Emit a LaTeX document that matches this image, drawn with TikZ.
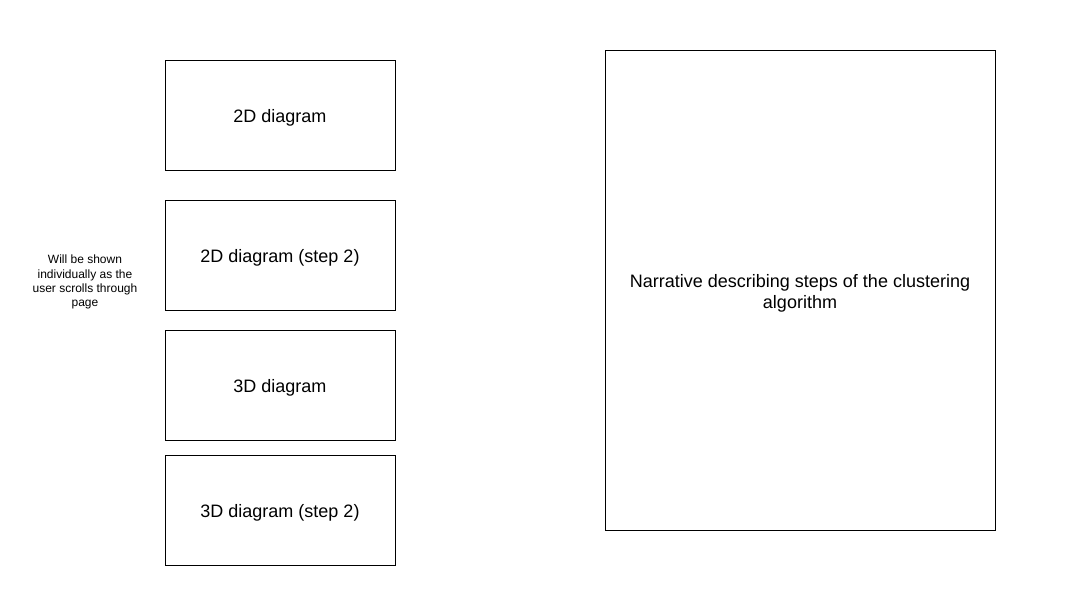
\documentclass[tikz,border=0pt]{standalone}
\usepackage{fontspec}
\setmainfont{Liberation Sans}
\begin{document}
\begin{tikzpicture}[x=1pt,y=-1pt,
  panel/.style={draw=black,line width=0.8pt,fill=white,minimum width=230pt,minimum height=110pt,inner sep=0pt},
  bigpanel/.style={draw=black,line width=0.8pt,fill=white,minimum width=390pt,minimum height=480pt,inner sep=0pt},
  paneltext/.style={font=\fontsize{18}{21}\selectfont,align=center,inner sep=0pt},
  note/.style={font=\fontsize{12}{14.2}\selectfont,align=center,inner sep=0pt}]
\useasboundingbox (0,0) rectangle (1071,601);
\node[panel] (d2) at (280,115) {};
\node[panel] (d2s) at (280,255) {};
\node[panel] (d3) at (280,385) {};
\node[panel] (d3s) at (280,510) {};
\node[bigpanel] (nar) at (800,290) {};
\node[paneltext] (t1) at ([yshift=-3pt]d2.center) {2D diagram};
\node[paneltext] (t2) at ([yshift=-3pt]d2s.center) {2D diagram (step 2)};
\node[paneltext] (t3) at ([yshift=-3pt]d3.center) {3D diagram};
\node[paneltext] (t4) at ([yshift=-3pt]d3s.center) {3D diagram (step 2)};
\node[paneltext] (t5) at ([yshift=-3pt]nar.center) {Narrative describing steps of the clustering\\algorithm};
\node[note] (n) at (85,282) {Will be shown\\individually as the\\user scrolls through\\page};
\end{tikzpicture}
\end{document}
